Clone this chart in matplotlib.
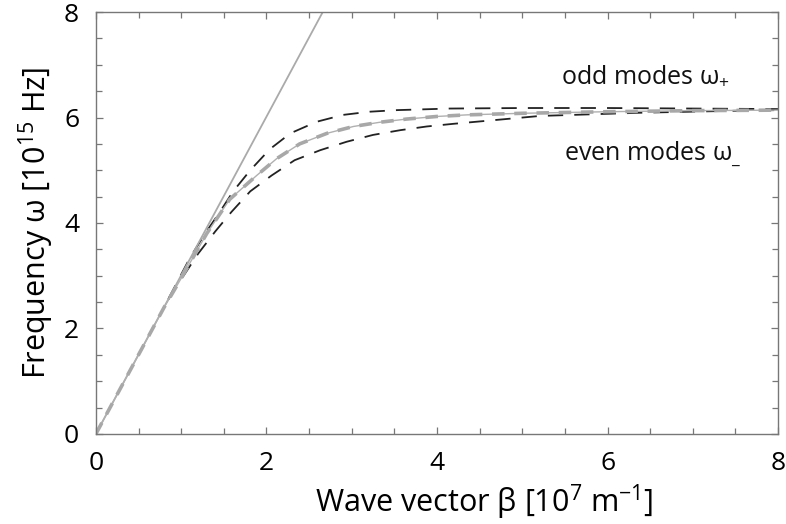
import matplotlib
matplotlib.use("Agg")
import matplotlib.pyplot as plt
from matplotlib.ticker import MultipleLocator

FONT = "Open Sans"
plt.rcParams['font.family'] = [FONT, 'DejaVu Sans']
plt.rcParams['mathtext.fontset'] = 'custom'
plt.rcParams['mathtext.rm'] = FONT
plt.rcParams['mathtext.it'] = FONT
plt.rcParams['mathtext.bf'] = FONT
plt.rcParams['lines.scale_dashes'] = False

# Light line
beta_light = [0.0, 2.66]
omega_light = [0.0, 8.0]

# Single-interface SPP (gray)
beta_spp = [0, 0.5, 0.8, 1.0, 1.3, 1.57, 1.885, 2.12, 2.39, 2.71, 3.02, 3.33,
            3.64, 4.0, 4.35, 5.0, 6.0, 7.0, 8.0]
omega_spp = [0, 1.5, 2.4, 2.95, 3.8, 4.45, 4.9, 5.22, 5.5, 5.7, 5.83, 5.91,
             5.97, 6.02, 6.05, 6.08, 6.11, 6.13, 6.14]

# Odd modes (upper branch)
beta_odd = [0.85, 1.1, 1.28, 1.45, 1.61, 1.81, 2.04, 2.28, 2.59, 2.90,
            3.21, 3.53, 4.15, 5.0, 6.0, 7.0, 8.0]
omega_odd = [2.56, 3.33, 3.8, 4.2, 4.6, 5.0, 5.4, 5.7, 5.92, 6.05,
             6.11, 6.14, 6.17, 6.18, 6.18, 6.17, 6.16]

# Even modes (lower branch)
beta_even = [0.85, 1.02, 1.2, 1.4, 1.59, 1.81, 2.06, 2.33, 2.63, 2.94,
             3.25, 3.57, 3.88, 4.19, 4.6, 5.21, 6.38, 7.55, 8.0]
omega_even = [2.55, 2.98, 3.42, 3.84, 4.21, 4.6, 4.9, 5.19, 5.38, 5.54,
              5.67, 5.76, 5.83, 5.88, 5.94, 6.03, 6.09, 6.13, 6.14]

x_ticks = [0, 2, 4, 6, 8]
y_ticks = [0, 2, 4, 6, 8]

fig = plt.figure(figsize=(7.86, 5.24), dpi=100)
ax = fig.add_axes([0.122, 0.172, 0.868, 0.805])

ax.plot(beta_odd, omega_odd, color='#222222', lw=1.3, dashes=(11, 8))
ax.plot(beta_even, omega_even, color='#222222', lw=1.3, dashes=(11, 8))
ax.plot(beta_light, omega_light, color='#aaaaaa', lw=1.3, solid_capstyle='butt')
ax.plot(beta_spp, omega_spp, color='#b0b0b0', lw=1.0)
ax.plot(beta_spp, omega_spp, color='#a8a8a8', lw=2.6, dashes=(9, 7))

ax.set_xlim(0, 8)
ax.set_ylim(0, 8)
ax.set_xticks(x_ticks)
ax.set_yticks(y_ticks)
ax.xaxis.set_minor_locator(MultipleLocator(0.5))
ax.yaxis.set_minor_locator(MultipleLocator(0.5))
ax.tick_params(which='both', direction='in', top=True, right=True,
               color='#777777', width=0.9)
ax.tick_params(which='major', length=5, labelsize=19, pad=12)
ax.tick_params(which='minor', length=4)
for s in ax.spines.values():
    s.set_color('#777777')
    s.set_linewidth(1.0)

ax.set_xlabel(r'Wave vector β [10$^{7}$ m$^{\mathrm{-1}}$]', fontsize=22, labelpad=4)
ax.xaxis.set_label_coords(0.569, -0.115)
ax.set_ylabel(r'Frequency ω [10$^{15}$ Hz]', fontsize=22, labelpad=6)

ax.text(5.45, 6.66, r'odd modes ω$_{+}$', fontsize=18, color='#111111')
ax.text(5.49, 5.2, r'even modes ω$_{\_}$', fontsize=18, color='#111111')

fig.savefig('out.png', dpi=100)
